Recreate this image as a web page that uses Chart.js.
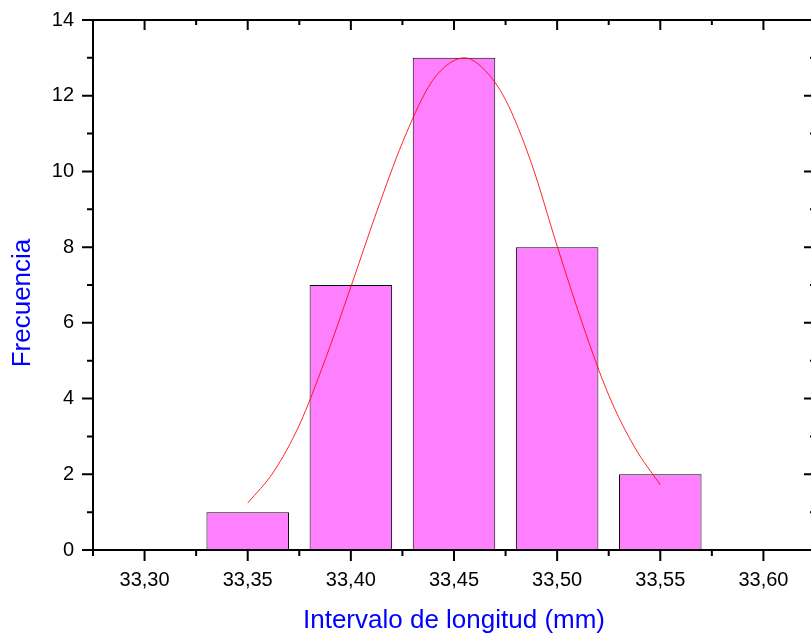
<!DOCTYPE html>
<html><head><meta charset="utf-8">
<script src="https://cdn.jsdelivr.net/npm/chart.js@4/dist/chart.umd.min.js"></script>
<style>
html,body{margin:0;padding:0;background:#fff;overflow:hidden;}
#wrap{width:811px;height:634px;overflow:hidden;position:relative;background:#fff;}
canvas{display:block;}
</style></head><body>
<div id="wrap"><canvas id="c" width="830" height="634"></canvas></div>
<script>
// ---- data ----
const binCenters = [33.35, 33.40, 33.45, 33.50, 33.55];
const frequencies = [1, 7, 13, 8, 2];
const fitX = [33.350, 33.3625, 33.375, 33.3875, 33.400, 33.4125, 33.425, 33.4375, 33.4455, 33.455, 33.4645, 33.475, 33.4875, 33.500, 33.5125, 33.525, 33.5375, 33.550];
const fitY = [1.24, 2.06, 3.30, 5.02, 6.95, 8.93, 10.76, 12.22, 12.76, 13.0, 12.70, 11.89, 10.22, 8.03, 5.94, 4.09, 2.72, 1.72];
const xTickValues = [33.30, 33.35, 33.40, 33.45, 33.50, 33.55, 33.60];
const xTickLabels = ['33,30', '33,35', '33,40', '33,45', '33,50', '33,55', '33,60'];
const xMinorValues = [33.275, 33.325, 33.375, 33.425, 33.475, 33.525, 33.575, 33.625];
const yTickValues = [0, 2, 4, 6, 8, 10, 12, 14];
const yMinorValues = [1, 3, 5, 7, 9, 11, 13];
const xTitle = 'Intervalo de longitud (mm)';
const yTitle = 'Frecuencia';

const FONT = '"Liberation Sans", Arial, Helvetica, sans-serif';

const frame = {
  id: 'frame',
  afterDraw(chart) {
    const {ctx, chartArea: a, scales: {x, y}} = chart;
    ctx.save();
    ctx.strokeStyle = '#000';
    ctx.lineWidth = 2;
    ctx.beginPath();
    ctx.rect(a.left, a.top, a.right - a.left, a.bottom - a.top);
    ctx.stroke();
    const seg = (x1, y1, x2, y2) => { ctx.moveTo(x1, y1); ctx.lineTo(x2, y2); };
    ctx.beginPath();
    xTickValues.forEach(v => { const p = x.getPixelForValue(v); seg(p, a.bottom, p, a.bottom + 11); seg(p, a.top, p, a.top + 10); });
    xMinorValues.forEach(v => { const p = x.getPixelForValue(v); seg(p, a.bottom, p, a.bottom + 6); seg(p, a.top, p, a.top + 5); });
    yTickValues.forEach(v => { const p = y.getPixelForValue(v); seg(a.left - 11, p, a.left, p); seg(a.right, p, a.right - 11, p); });
    yMinorValues.forEach(v => { const p = y.getPixelForValue(v); seg(a.left - 6, p, a.left, p); seg(a.right, p, a.right - 5, p); });
    ctx.stroke();
    // y axis title
    ctx.translate(23, 303);
    ctx.rotate(-Math.PI / 2);
    ctx.fillStyle = '#0000FF';
    ctx.font = '26px ' + FONT;
    ctx.textAlign = 'center';
    ctx.textBaseline = 'middle';
    ctx.fillText(yTitle, 0, 0);
    ctx.restore();
  }
};

new Chart(document.getElementById('c'), {
  type: 'bar',
  data: {
    datasets: [
      {
        type: 'line',
        data: fitX.map((v, i) => ({x: v, y: fitY[i]})),
        borderColor: 'rgba(255,0,0,0.85)',
        borderWidth: 1,
        pointRadius: 0,
        fill: false,
        cubicInterpolationMode: 'monotone',
        order: 0
      },
      {
        type: 'bar',
        data: binCenters.map((v, i) => ({x: v, y: frequencies[i]})),
        backgroundColor: '#FF80FF',
        borderColor: '#000000',
        borderWidth: 1,
        borderSkipped: false,
        barPercentage: 0.8,
        categoryPercentage: 1.0,
        order: 1
      }
    ]
  },
  options: {
    responsive: false,
    animation: false,
    events: [],
    layout: {padding: {left: 0, right: 15, top: 20, bottom: 0}},
    plugins: {legend: {display: false}, tooltip: {enabled: false}},
    scales: {
      x: {
        type: 'linear',
        min: 33.275,
        max: 33.625,
        offset: false,
        grid: {display: false, drawTicks: false},
        border: {display: false},
        afterBuildTicks: s => { s.ticks = xTickValues.map(v => ({value: v})); },
        afterFit: s => { s.height = 84; s.paddingLeft = 0; s.paddingRight = 0; },
        ticks: {
          autoSkip: false,
          maxRotation: 0,
          padding: 18,
          color: '#000',
          font: {family: FONT, size: 20},
          callback: (v) => {
            const i = xTickValues.findIndex(t => Math.abs(t - v) < 1e-6);
            return i >= 0 ? xTickLabels[i] : '';
          }
        },
        title: {
          display: true,
          text: xTitle,
          color: '#0000FF',
          font: {family: FONT, size: 26, lineHeight: 1},
          padding: {top: 0, bottom: 0}
        }
      },
      y: {
        min: 0,
        max: 14,
        grid: {display: false, drawTicks: false},
        border: {display: false},
        afterBuildTicks: s => { s.ticks = yTickValues.map(v => ({value: v})); },
        afterFit: s => { s.width = 93; s.paddingTop = 0; s.paddingBottom = 0; },
        ticks: {
          padding: 19,
          color: '#000',
          font: {family: FONT, size: 20}
        }
      }
    }
  },
  plugins: [frame]
});
</script>
</body></html>
